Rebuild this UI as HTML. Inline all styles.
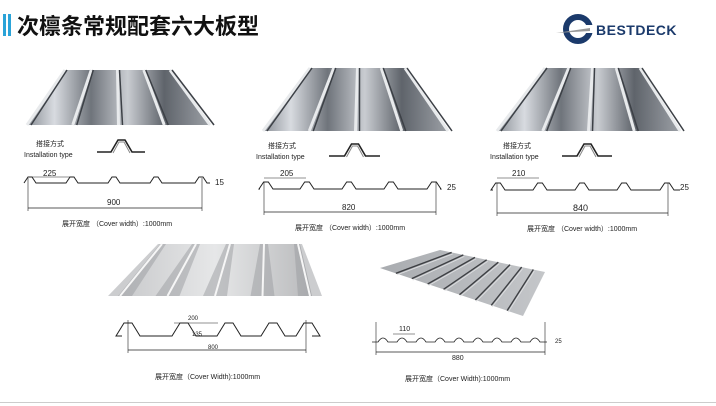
<!DOCTYPE html>
<html><head><meta charset="utf-8">
<style>
html,body{margin:0;padding:0;background:#fff;}
body{width:716px;height:406px;overflow:hidden;position:relative;font-family:"Liberation Sans","Noto Sans CJK SC",sans-serif;}
svg{position:absolute;left:0;top:0}
</style></head><body>
<svg id="s" width="716" height="406" viewBox="0 0 716 406" xmlns="http://www.w3.org/2000/svg">
<defs>
<linearGradient id="met" x1="0" x2="1" y1="0" y2="0">
<stop offset="0" stop-color="#8a8f96"/><stop offset="0.15" stop-color="#d8dbe0"/><stop offset="0.35" stop-color="#6f747b"/><stop offset="0.55" stop-color="#c9ccd1"/><stop offset="0.75" stop-color="#5f646b"/><stop offset="1" stop-color="#9ca0a6"/>
</linearGradient>
<linearGradient id="lg" x1="0" x2="1"><stop offset="0" stop-color="#c8c9cb"/><stop offset="0.5" stop-color="#e6e7e8"/><stop offset="1" stop-color="#b9babc"/></linearGradient>
<linearGradient id="lg2" x1="0" x2="1"><stop offset="0" stop-color="#a9acb0"/><stop offset="1" stop-color="#c4c6c9"/></linearGradient>
</defs>
<rect x="3" y="14" width="3" height="22" fill="#2aa3d8"/>
<rect x="8" y="14" width="3" height="22" fill="#2aa3d8"/>
<text x="17" y="34" font-size="22" font-weight="bold" fill="#111" font-family="Noto Sans CJK SC,sans-serif">次檩条常规配套六大板型</text>
<circle cx="578" cy="29" r="12" fill="none" stroke="#1b3a6b" stroke-width="6"/>
<rect x="578" y="25" width="16" height="8" fill="#fff"/>
<path d="M556 33 L590 28 L590 31 Z" fill="#999"/>
<text x="596" y="35" font-size="14" font-weight="bold" fill="#1b3a6b" letter-spacing="0.5">BESTDECK</text>
<g id="g"></g>
<g font-size="7" fill="#222">
<text x="36" y="146" font-family="Noto Sans CJK SC,sans-serif">搭接方式</text>
<text x="24" y="157">Installation type</text>
<text x="268" y="148" font-family="Noto Sans CJK SC,sans-serif">搭接方式</text>
<text x="256" y="159">Installation type</text>
<text x="503" y="148" font-family="Noto Sans CJK SC,sans-serif">搭接方式</text>
<text x="490" y="159">Installation type</text>
<text x="43" y="176" font-size="8">225</text>
<text x="280" y="176" font-size="8">205</text>
<text x="512" y="176" font-size="8">210</text>
<text x="215" y="185" font-size="8">15</text>
<text x="447" y="190" font-size="8">25</text>
<text x="680" y="190" font-size="8">25</text>
<text x="107" y="205" font-size="8">900</text>
<text x="342" y="210" font-size="8">820</text>
<text x="573" y="211" font-size="9">840</text>
<text x="62" y="226">展开宽度 （Cover width）:1000mm</text>
<text x="295" y="230">展开宽度 （Cover width）:1000mm</text>
<text x="527" y="231">展开宽度 （Cover width）:1000mm</text>
<text x="188" y="320" font-size="6">200</text>
<text x="192" y="336" font-size="6">135</text>
<text x="208" y="349" font-size="6">800</text>
<text x="399" y="331" font-size="7">110</text>
<text x="452" y="360" font-size="7">880</text>
<text x="555" y="343" font-size="6">25</text>
<text x="155" y="379">展开宽度（Cover Width):1000mm</text>
<text x="405" y="381">展开宽度（Cover Width):1000mm</text>
</g>
<rect x="0" y="402" width="716" height="1" fill="#ccc"/>
</svg>
<script>
var g=document.getElementById('g'),h='';
function panel(tl,tr,ty,bl,br,by,n){
 h+='<path d="M'+tl+' '+ty+'L'+tr+' '+ty+'L'+br+' '+by+'L'+bl+' '+by+'Z" fill="url(#met)"/>';
 for(var i=0;i<n;i++){var t=i/(n-1);var xt=tl+(tr-tl)*t,xb=bl+(br-bl)*t;
  h+='<line x1="'+xt+'" y1="'+ty+'" x2="'+xb+'" y2="'+by+'" stroke="#e8eaec" stroke-width="3"/><line x1="'+(xt+2)+'" y1="'+ty+'" x2="'+(xb+4)+'" y2="'+by+'" stroke="#3c4046" stroke-width="1.5"/>';}
}
panel(65,170,70,27,210,125,5);
panel(310,405,68,263,448,131,5);
panel(545,640,68,497,680,131,5);
function prof(x0,x1,y,ribs,hh,w){
 var d='M'+x0+' '+y;
 ribs.forEach(function(r){d+=' L'+(r-w)+' '+y+' L'+(r-w/3)+' '+(y-hh)+' L'+(r+w/3)+' '+(y-hh)+' L'+(r+w)+' '+y;});
 d+=' L'+x1+' '+y;
 h+='<path d="'+d+'" fill="none" stroke="#222" stroke-width="1"/>';
}
function dim(x0,x1,y){h+='<line x1="'+x0+'" y1="'+y+'" x2="'+x1+'" y2="'+y+'" stroke="#222" stroke-width="0.7"/><line x1="'+x0+'" y1="'+(y-30)+'" x2="'+x0+'" y2="'+(y+3)+'" stroke="#222" stroke-width="0.6"/><line x1="'+x1+'" y1="'+(y-30)+'" x2="'+x1+'" y2="'+(y+3)+'" stroke="#222" stroke-width="0.6"/>';}
prof(24,210,183,[30,72,114,156,201],6,6);
dim(28,202,208);h+='<line x1="28" y1="177" x2="71" y2="177" stroke="#222" stroke-width="0.6"/>';
prof(260,440,189,[266,307,349,391,434],7,7);
dim(264,436,212);h+='<line x1="264" y1="178" x2="306" y2="178" stroke="#222" stroke-width="0.6"/>';
prof(493,680,190,[498,540,582,624,667],7,7);
dim(497,668,213);h+='<line x1="497" y1="178" x2="539" y2="178" stroke="#222" stroke-width="0.6"/>';
[[97,145,152],[329,380,156],[562,612,156]].forEach(function(a){var m=(a[0]+a[1])/2;h+='<path d="M'+a[0]+' '+a[2]+' L'+(m-10)+' '+a[2]+' L'+(m-3)+' '+(a[2]-12)+' L'+(m+4)+' '+(a[2]-12)+' L'+(m+11)+' '+a[2]+' L'+a[1]+' '+a[2]+'" fill="none" stroke="#222" stroke-width="1.6"/><path d="M'+(m-8)+' '+(a[2]+1)+' L'+(m-2)+' '+(a[2]-10)+' L'+(m+3)+' '+(a[2]-10)+' L'+(m+9)+' '+(a[2]+1)+'" fill="none" stroke="#888" stroke-width="1"/>';});
h+='<path d="M160 244 L300 244 L312 296 L118 296 Z" fill="url(#lg)"/>';
[0,0.25,0.5,0.75,1].forEach(function(t){var xt=162+136*t,xb=120+190*t;h+='<path d="M'+(xt-4)+' 244 L'+(xb-12)+' 296 L'+(xb+12)+' 296 L'+(xt+4)+' 244Z" fill="#9a9c9f" opacity="0.5"/><line x1="'+xt+'" y1="244" x2="'+xb+'" y2="296" stroke="#f6f6f6" stroke-width="2"/>';});
prof(122,312,336,[128,184,229,273,308],13,12);
dim(128,306,350);h+='<line x1="174" y1="323" x2="218" y2="323" stroke="#222" stroke-width="0.6"/>';
// bottom-right panel: quad A,B,C,D
var A=[380,268],B=[440,250],C=[545,272],D=[523,316];
h+='<path d="M'+A+' L'+B+' L'+C+' L'+D+' Z" fill="url(#lg2)"/>';
for(var i=1;i<=8;i++){var t=i/9;var p=[A[0]+(D[0]-A[0])*t,A[1]+(D[1]-A[1])*t],q=[B[0]+(C[0]-B[0])*t,B[1]+(C[1]-B[1])*t];
 h+='<line x1="'+p[0]+'" y1="'+p[1]+'" x2="'+q[0]+'" y2="'+q[1]+'" stroke="#3e4044" stroke-width="1.4"/><line x1="'+(p[0]+1)+'" y1="'+(p[1]+1.5)+'" x2="'+(q[0]+1)+'" y2="'+(q[1]+1.5)+'" stroke="#e0e1e3" stroke-width="0.8"/>';}
(function(){var d='M372 342';for(var i=0;i<9;i++){var x=383+19*i;d+=' L'+(x-5)+' 342 Q'+x+' 334 '+(x+5)+' 342';}d+=' L547 342';h+='<path d="'+d+'" fill="none" stroke="#222" stroke-width="0.8"/>';})();
dim(376,545,352);h+='<line x1="393" y1="334" x2="415" y2="334" stroke="#222" stroke-width="0.6"/>';
g.innerHTML=h;
</script>
</body></html>
